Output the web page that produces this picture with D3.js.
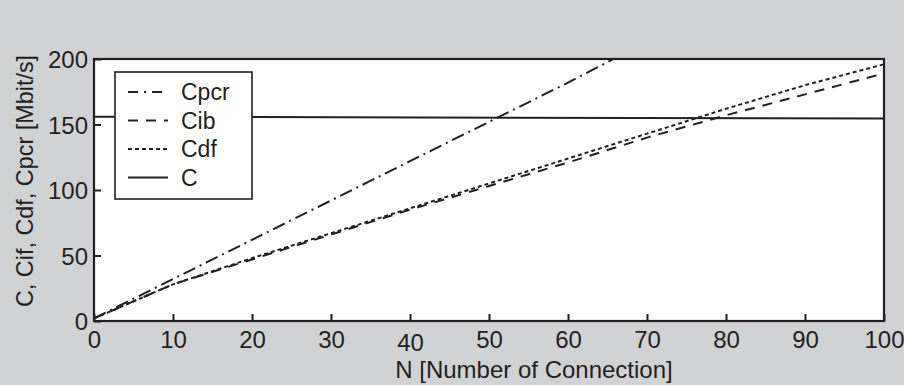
<!DOCTYPE html>
<meta charset="utf-8">
<script src="https://d3js.org/d3.v7.min.js"></script>
<style>
  body { margin: 0; background: #d1d2d4; }
  text { font-family: "Liberation Sans", Arial, sans-serif; fill: #231f20; }
</style>
<div id="chart"></div>
<script>
// values
const nVals    = [0, 10, 20, 30, 40, 50, 60, 70, 80, 90, 100];
const cpcrN    = [0, 10, 20, 30, 40, 50, 60, 65.6];
const cpcrVals = [2, 32, 62, 92, 122, 152, 182, 199.5];
const cibVals  = [2, 28, 47, 66, 85, 103, 121, 140, 157, 173, 189];
const cdfVals  = [2, 28, 48, 67, 86, 105, 124, 143, 162, 180, 196];
const cN       = [0, 100];
const cVals    = [156, 154.5];
const xTicks = [0, 10, 20, 30, 40, 50, 60, 70, 80, 90, 100];
const yTicks = [0, 50, 100, 150, 200];

const W = 904, H = 385;
let margin = {top: 59, right: 20, bottom: 64, left: 94};
let width = W - margin.left - margin.right,
    height = H - margin.top - margin.bottom;

let svg = d3.select("#chart").append("svg")
    .attr("width", W).attr("height", H);
svg.append("rect").attr("width", W).attr("height", H).attr("fill", "#d1d2d4");

let g = svg.append("g")
    .attr("transform", "translate(" + margin.left + "," + margin.top + ")");

let x = d3.scaleLinear().domain([0, 100]).range([0, width]);
let y = d3.scaleLinear().domain([0, 200]).range([height, 0]);

g.append("rect").attr("width", width).attr("height", height).attr("fill", "#fff");

g.append("clipPath").attr("id", "clip")
  .append("rect").attr("width", width).attr("height", height);

let line = d3.line().x(d => x(d[0])).y(d => y(d[1]));
let series = [
  {name: "Cpcr", xs: cpcrN, ys: cpcrVals, dash: "13,5,2,5"},
  {name: "Cib",  xs: nVals, ys: cibVals,  dash: "10,8"},
  {name: "Cdf",  xs: nVals, ys: cdfVals,  dash: "4,3"},
  {name: "C",    xs: cN,    ys: cVals,    dash: null}
];
let lines = g.append("g").attr("clip-path", "url(#clip)");
series.forEach(s => {
  lines.append("path")
    .datum(s.xs.map((v, i) => [v, s.ys[i]]))
    .attr("d", line)
    .attr("fill", "none")
    .attr("stroke", "#231f20")
    .attr("stroke-width", 2)
    .attr("stroke-dasharray", s.dash);
});

// axes (ticks point inward)
let xAxis = g.append("g").attr("transform", "translate(0," + height + ")")
  .call(d3.axisBottom(x).tickValues(xTicks).tickSizeInner(-7).tickSizeOuter(0).tickPadding(14));
let yAxis = g.append("g")
  .call(d3.axisLeft(y).tickValues(yTicks).tickSizeInner(-7).tickSizeOuter(0).tickPadding(6));
[xAxis, yAxis].forEach(a => {
  a.select(".domain").remove();
  a.selectAll("line").attr("stroke", "#231f20").attr("stroke-width", 2);
  a.selectAll("text").attr("font-size", 24).attr("fill", "#231f20")
    .style("font-family", '"Liberation Sans", Arial, sans-serif');
});
xAxis.selectAll("text").attr("dy", d => d === 40 ? "0.66em" : "0.55em");
yAxis.selectAll("text").attr("dy", "0.36em");

g.append("rect").attr("width", width).attr("height", height)
  .attr("fill", "none").attr("stroke", "#231f20").attr("stroke-width", 2.2);

// legend
let lg = g.append("g").attr("transform", "translate(21,13)");
lg.append("rect").attr("width", 137).attr("height", 127)
  .attr("fill", "#fff").attr("stroke", "#231f20").attr("stroke-width", 1.6);
series.forEach((s, i) => {
  let yy = 20 + i * 28.5;
  lg.append("line").attr("x1", 13).attr("x2", 53).attr("y1", yy).attr("y2", yy)
    .attr("stroke", "#231f20").attr("stroke-width", 2)
    .attr("stroke-dasharray", s.dash === "13,5,2,5" ? "10,6,2,6" : s.dash);
  lg.append("text").attr("x", 66).attr("y", yy).attr("dy", "0.36em")
    .attr("font-size", 23).text(s.name);
});

// axis titles
svg.append("text").attr("x", 534).attr("y", 378)
  .attr("text-anchor", "middle").attr("font-size", 24).text("N [Number of Connection]");
svg.append("text")
  .attr("transform", "translate(33,181) rotate(-90)")
  .attr("text-anchor", "middle").attr("font-size", 23.4).text("C, Cif, Cdf, Cpcr [Mbit/s]");
</script>
